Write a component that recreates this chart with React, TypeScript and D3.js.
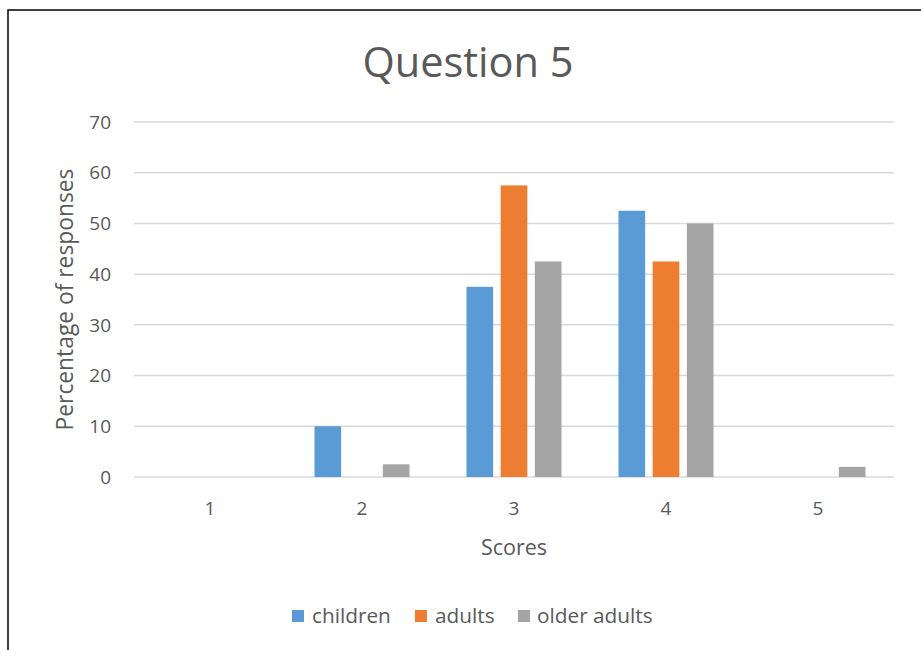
import React from "react";
import * as d3 from "d3";

const categories = ["1", "2", "3", "4", "5"];
const seriesNames = ["children", "adults", "older adults"];
const children = [0, 10, 37.5, 52.5, 0];
const adults = [0, 0, 57.5, 42.5, 0];
const olderAdults = [0, 2.5, 42.5, 50, 2];
const yTicks = [0, 10, 20, 30, 40, 50, 60, 70];
const colors = ["#5B9BD5", "#ED7D31", "#A5A5A5"];

const W = 921;
const H = 650;
const FONT = "'Open Sans', 'Liberation Sans', sans-serif";

export default function App() {
  const series = [children, adults, olderAdults];
  const x0 = d3.scaleBand().domain(categories).range([134, 894]).paddingInner(0).paddingOuter(0);
  const y = d3.scaleLinear().domain([0, 70]).range([477, 122]);
  const groupW = 95;
  const x1 = d3.scaleBand().domain(seriesNames).range([0, groupW]).paddingInner(0.22).paddingOuter(0);

  const legendItems = [
    { name: seriesNames[0], sx: 292, tx: 312 },
    { name: seriesNames[1], sx: 415, tx: 435 },
    { name: seriesNames[2], sx: 518, tx: 537 },
  ];

  return (
    <svg width={W} height={H} style={{ position: "absolute", left: 0, top: 0, background: "#fff" }} fontFamily={FONT}>
      <rect x={8} y={10} width={W + 10} height={H + 10} fill="#fff" stroke="#000" strokeWidth={1.5} />
      <text x={468} y={77} textAnchor="middle" fontSize={41.5} fill="#595959">Question 5</text>
      {yTicks.map((t) => (
        <g key={t}>
          <line x1={134} x2={894} y1={y(t)} y2={y(t)} stroke="#D9D9D9" strokeWidth={1.5} />
          <text x={111} y={y(t)} dy="0.35em" textAnchor="end" fontSize={19} fill="#595959">{t}</text>
        </g>
      ))}
      {categories.map((c, i) => (
        <g key={c}>
          {series.map((s, j) => {
            const bx = (x0(c) as number) + (x0.bandwidth() - groupW) / 2 + (x1(seriesNames[j]) as number);
            const h = y(0) - y(s[i]);
            return h > 0 ? (
              <rect key={j} x={bx} y={y(s[i])} width={x1.bandwidth()} height={h} fill={colors[j]} />
            ) : null;
          })}
          <text x={(x0(c) as number) + x0.bandwidth() / 2} y={508} dy="0.35em" textAnchor="middle" fontSize={19} fill="#595959">{c}</text>
        </g>
      ))}
      <text x={514} y={555} textAnchor="middle" fontSize={21.5} fill="#595959">Scores</text>
      <text transform={`translate(73,${(122 + 477) / 2}) rotate(-90)`} textAnchor="middle" fontSize={22.8} fill="#595959">Percentage of responses</text>
      {legendItems.map((l, i) => (
        <g key={l.name}>
          <rect x={l.sx} y={610} width={12} height={12} fill={colors[i]} />
          <text x={l.tx} y={616} dy="0.35em" fontSize={20.8} fill="#595959">{l.name}</text>
        </g>
      ))}
    </svg>
  );
}
